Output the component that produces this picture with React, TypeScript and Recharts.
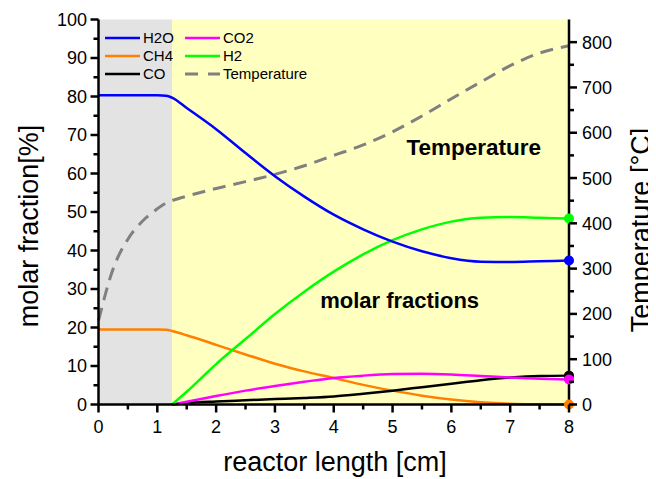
import React from 'react';
import { ComposedChart, Line, XAxis, YAxis, ReferenceArea, ReferenceDot, Legend } from 'recharts';

const X = [0, 0.25, 0.5, 0.75, 1, 1.15, 1.25, 1.5, 2, 2.5, 3, 3.5, 4, 4.5, 5, 5.5, 6, 6.5, 7, 7.5, 8];
const H2O = [80.3, 80.3, 80.3, 80.3, 80.3, 80.2, 79.7, 77.0, 71.5, 65.3, 59.3, 54, 49.3, 45.5, 42.3, 39.8, 38, 37.1, 37, 37.2, 37.4];
const CH4 = [19.5, 19.5, 19.5, 19.5, 19.5, 19.4, 19.1, 18, 15.5, 13, 10.6, 8.6, 6.9, 5.1, 3.6, 2.3, 1.3, 0.6, 0.2, 0.05, 0];
const CO = [null, null, null, null, null, null, 0, 0.4, 0.8, 1.1, 1.4, 1.7, 2.1, 2.8, 3.6, 4.5, 5.4, 6.3, 7.0, 7.4, 7.5];
const CO2 = [null, null, null, null, null, null, 0, 0.7, 2.2, 3.6, 4.8, 5.9, 6.9, 7.5, 7.9, 8.0, 7.8, 7.4, 7.0, 6.7, 6.5];
const H2 = [null, null, null, null, null, null, 0, 3.3, 10.5, 17, 23.5, 29.3, 34.5, 39, 42.7, 45.5, 47.5, 48.5, 48.7, 48.5, 48.3];
const TEMP = [185, 300, 365, 405, 432, 445, 450, 460, 477, 492, 508, 527, 550, 573, 602, 637, 675, 712, 748, 776, 792];

const X_TICKS = [0, 0.5, 1, 1.5, 2, 2.5, 3, 3.5, 4, 4.5, 5, 5.5, 6, 6.5, 7, 7.5, 8];
const Y_TICKS = [0, 5, 10, 15, 20, 25, 30, 35, 40, 45, 50, 55, 60, 65, 70, 75, 80, 85, 90, 95, 100];
const T_TICKS = [0, 50, 100, 150, 200, 250, 300, 350, 400, 450, 500, 550, 600, 650, 700, 750, 800];

const SERIES = [
  { key: 'Temperature', name: 'Temperature', color: '#808080' },
  { key: 'CH4', name: 'CH4', color: '#FF8000' },
  { key: 'CO', name: 'CO', color: '#000000' },
  { key: 'CO2', name: 'CO2', color: '#FF00FF' },
  { key: 'H2', name: 'H2', color: '#00FF00' },
  { key: 'H2O', name: 'H2O', color: '#0000FF' },
];

const data = X.map((x, i) => ({
  x,
  H2O: H2O[i],
  CH4: CH4[i],
  CO: CO[i],
  CO2: CO2[i],
  H2: H2[i],
  Temperature: TEMP[i],
}));

const FONT = '"Liberation Sans", Arial, sans-serif';
const TICK_FS = 18;

const BottomTick = (p: any) => {
  const v = p.payload.value;
  const major = Math.abs(v - Math.round(v)) < 1e-6;
  return (
    <g>
      <line x1={p.x} x2={p.x} y1={p.y} y2={p.y + (major ? 8 : 5)} stroke="#000" strokeWidth={2.5} />
      {major && (
        <text x={p.x} y={p.y + 28} textAnchor="middle" fontSize={TICK_FS} fontFamily={FONT} fill="#000">
          {v}
        </text>
      )}
    </g>
  );
};

const TopTick = (p: any) => {
  const v = p.payload.value;
  const major = Math.abs(v - Math.round(v)) < 1e-6;
  return <line x1={p.x} x2={p.x} y1={p.y} y2={p.y + (major ? 7 : 5)} stroke="#000" strokeWidth={2.5} />;
};

const LeftTick = (p: any) => {
  const v = p.payload.value;
  const major = v % 10 === 0;
  return (
    <g>
      <line x1={p.x - (major ? 8 : 5)} x2={p.x} y1={p.y} y2={p.y} stroke="#000" strokeWidth={2.5} />
      {major && (
        <text x={p.x - 11.5} y={p.y} dy="0.36em" textAnchor="end" fontSize={TICK_FS} fontFamily={FONT} fill="#000">
          {v}
        </text>
      )}
    </g>
  );
};

const RightTick = (p: any) => {
  const v = p.payload.value;
  const major = v % 100 === 0;
  return (
    <g>
      <line x1={p.x} x2={p.x + (major ? 8 : 5)} y1={p.y} y2={p.y} stroke="#000" strokeWidth={2.5} />
      {major && (
        <text x={p.x + 13} y={p.y} dy="0.36em" textAnchor="start" fontSize={TICK_FS} fontFamily={FONT} fill="#000">
          {v}
        </text>
      )}
    </g>
  );
};

const endDot = (color: string) => (p: any) => {
  if (p.index === X.length - 1 && p.cx != null && p.cy != null) {
    return <circle key={`d-${p.index}`} cx={p.cx} cy={p.cy} r={5} fill={color} stroke="none" />;
  }
  return <g key={`d-${p.index}`} />;
};

const LEGEND_ROWS = [
  [{ name: 'H2O', color: '#0000FF', dash: false }, { name: 'CO2', color: '#FF00FF', dash: false }],
  [{ name: 'CH4', color: '#FF8000', dash: false }, { name: 'H2', color: '#00FF00', dash: false }],
  [{ name: 'CO', color: '#000000', dash: false }, { name: 'Temperature', color: '#808080', dash: true }],
];

const renderLegend = () => (
  <svg width={230} height={70} style={{ display: 'block' }}>
    {LEGEND_ROWS.map((row, r) =>
      row.map((item, c) => {
        const y = 18 + r * 18;
        const x0 = 7 + c * 80;
        return (
          <g key={`${r}-${c}`}>
            <line
              x1={x0}
              x2={x0 + 35}
              y1={y}
              y2={y}
              stroke={item.color}
              strokeWidth={item.dash ? 3 : 2.5}
              strokeDasharray={item.dash ? '13 10' : undefined}
            />
            <text x={x0 + 38} y={y} dy="0.36em" fontSize={15} fontFamily={FONT} fill="#000">
              {item.name}
            </text>
          </g>
        );
      })
    )}
  </svg>
);

const xTitle = () => (
  <text x={327} y={463} textAnchor="middle" fontSize={27} fontFamily={FONT} fill="#000">
    reactor length [cm]
  </text>
);
const yTitle = () => (
  <text x={20} y={218} textAnchor="middle" dy="0.36em" fontSize={27} fontFamily={FONT} fill="#000" transform="rotate(-90 20 218)">
    molar fraction[%]
  </text>
);
const tTitle = () => (
  <text x={632} y={222} textAnchor="middle" dy="0.36em" fontSize={27} fontFamily={FONT} fill="#000" transform="rotate(-90 632 222)">
    Temperature [°C]
  </text>
);

export default function App() {
  return (
    <ComposedChart width={656} height={479} data={data} margin={{ top: 11.5, right: 0, bottom: 0, left: 0 }}>
      <XAxis
        dataKey="x"
        type="number"
        domain={[0, 8]}
        ticks={X_TICKS}
        interval={0}
        tick={BottomTick}
        tickLine={false}
        tickSize={0}
        tickMargin={0}
        axisLine={{ stroke: '#000', strokeWidth: 2.5 }}
        height={82.5}
        label={xTitle}
      />
      <XAxis
        xAxisId="top"
        orientation="top"
        dataKey="x"
        type="number"
        domain={[0, 8]}
        ticks={X_TICKS}
        interval={0}
        tick={TopTick}
        tickLine={false}
        tickSize={0}
        tickMargin={0}
        axisLine={{ stroke: '#000', strokeWidth: 2.5 }}
        height={0}
      />
      <YAxis
        type="number"
        domain={[0, 100]}
        ticks={Y_TICKS}
        interval={0}
        tick={LeftTick}
        tickLine={false}
        tickSize={0}
        tickMargin={0}
        axisLine={{ stroke: '#000', strokeWidth: 2.5 }}
        width={90.5}
        label={yTitle}
      />
      <YAxis
        yAxisId="r"
        orientation="right"
        type="number"
        domain={[0, 850]}
        ticks={T_TICKS}
        interval={0}
        tick={RightTick}
        tickLine={false}
        tickSize={0}
        tickMargin={0}
        axisLine={{ stroke: '#000', strokeWidth: 2.5 }}
        width={95}
        label={tTitle}
      />
      <ReferenceArea x1={0} x2={1.25} y1={0} y2={100} fill="#E3E3E3" fillOpacity={1} stroke="none" />
      <ReferenceArea x1={1.25} x2={8} y1={0} y2={100} fill="#FFFFC0" fillOpacity={1} stroke="none" />
      {SERIES.map((s) => (
        <Line
          key={s.key}
          dataKey={s.key}
          name={s.name}
          yAxisId={s.key === 'Temperature' ? 'r' : undefined}
          type="monotone"
          stroke={s.color}
          strokeWidth={s.key === 'Temperature' ? 3 : 2.5}
          strokeDasharray={s.key === 'Temperature' ? '13 8' : undefined}
          dot={s.key === 'Temperature' ? false : endDot(s.color)}
          activeDot={false}
          isAnimationActive={false}
          connectNulls={false}
        />
      ))}
      <ReferenceDot
        x={6.38}
        y={66.9}
        r={0}
        fill="none"
        stroke="none"
        label={{ value: 'Temperature', position: 'center', fontSize: 22.5, fontWeight: 'bold', fontFamily: FONT, fill: '#000' }}
      />
      <ReferenceDot
        x={5.12}
        y={27.1}
        r={0}
        fill="none"
        stroke="none"
        label={{ value: 'molar fractions', position: 'center', fontSize: 22, fontWeight: 'bold', fontFamily: FONT, fill: '#000' }}
      />
      <Legend
        layout="horizontal"
        verticalAlign="middle"
        align="center"
        content={renderLegend}
        wrapperStyle={{ position: 'absolute', left: 90, top: 12, width: 230, height: 70 }}
      />
    </ComposedChart>
  );
}
